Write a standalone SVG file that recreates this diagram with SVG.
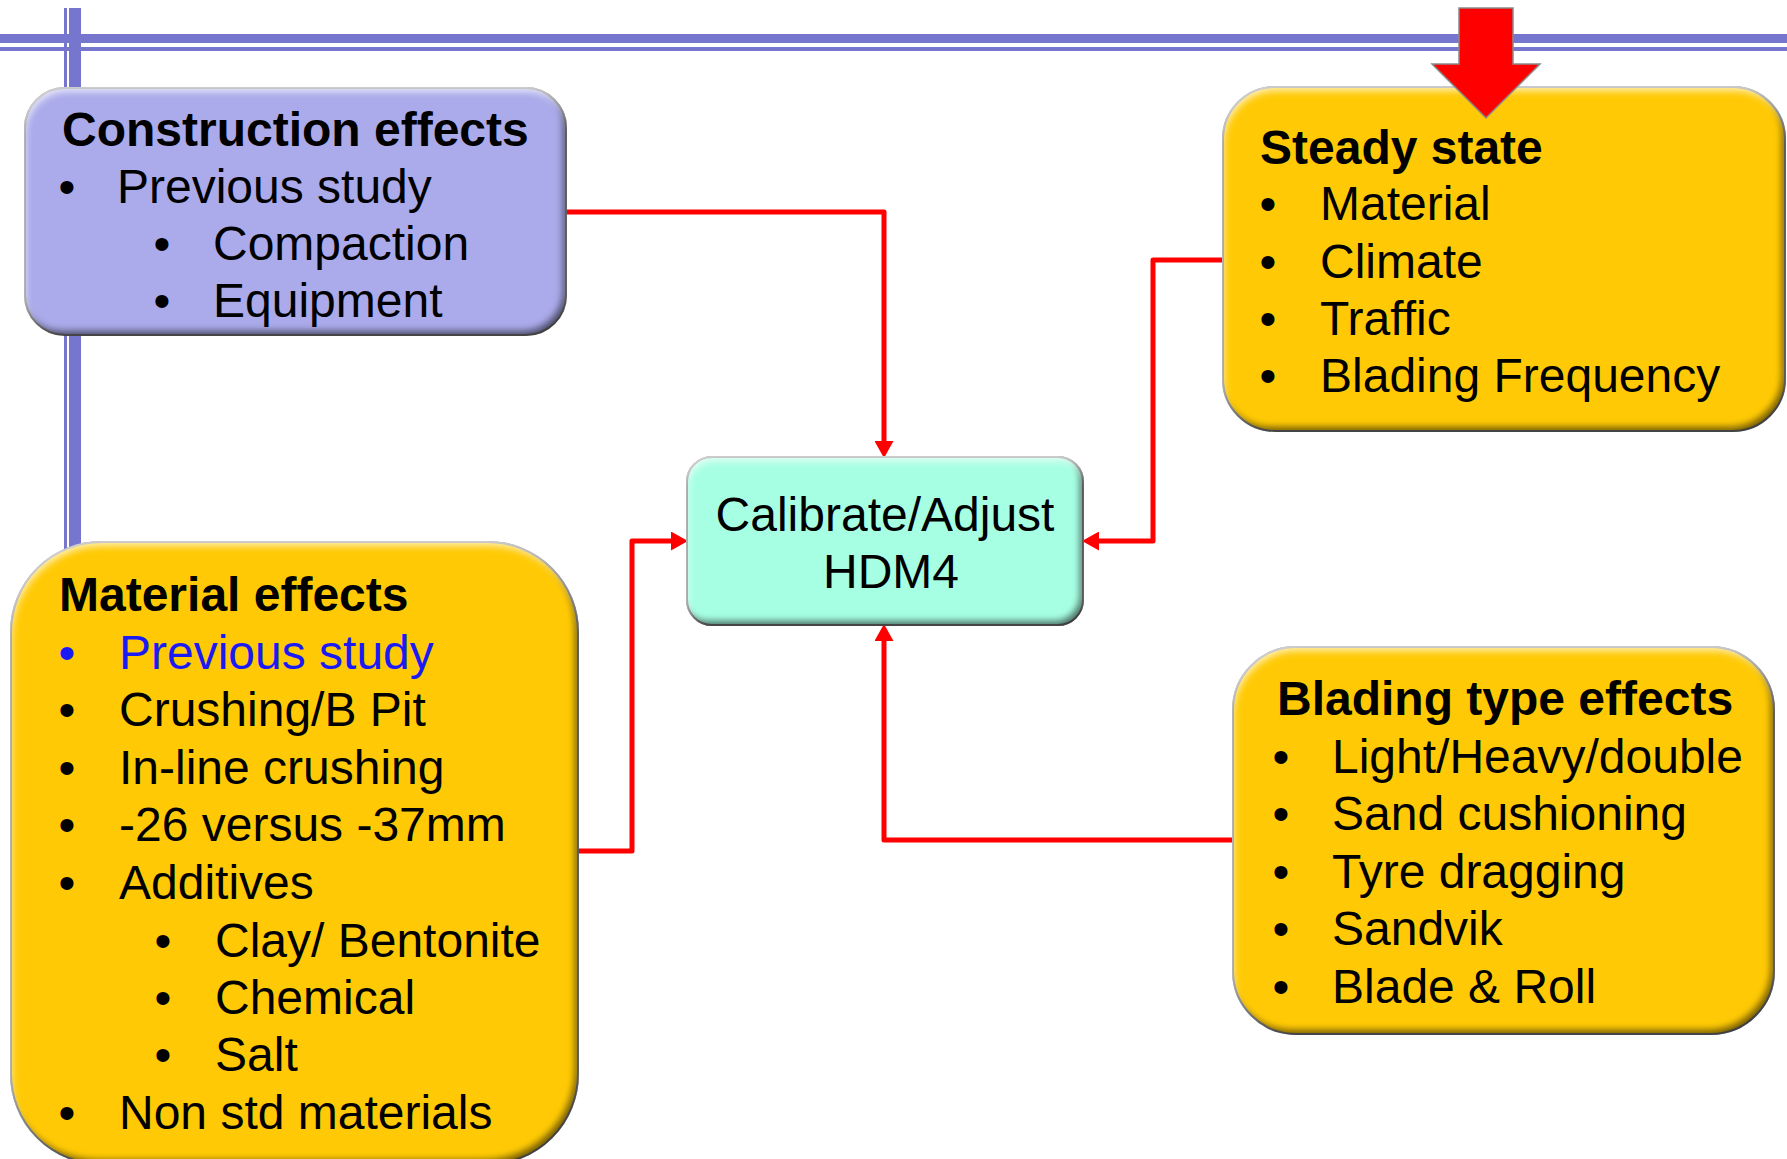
<svg xmlns="http://www.w3.org/2000/svg" width="1787" height="1159" viewBox="0 0 1787 1159">
<defs>
<style>
.t{font-family:"Liberation Sans",Arial,sans-serif;font-size:48px;fill:#000}
.b{font-weight:bold}
.blue{fill:#1A1AF5}
.bul{text-anchor:middle}
.c{text-anchor:middle}
.conn{fill:none;stroke:#FF0000;stroke-width:5;stroke-linejoin:round}
.box{stroke:#7A7A7A;stroke-width:2;filter:url(#bevel)}
.lav{fill:#ABABEB}
.gold{fill:#FFCA05}
.mint{fill:#A7FFE3}
.bar{fill:#7676CE}
</style>
<filter id="bevel" x="-10%" y="-10%" width="120%" height="120%" color-interpolation-filters="sRGB">
<feComponentTransfer in="SourceAlpha" result="inv"><feFuncA type="table" tableValues="1 0"/></feComponentTransfer>
<feGaussianBlur in="inv" stdDeviation="3.5" result="blur"/>
<feOffset in="blur" dx="-4" dy="-5" result="offBR"/>
<feFlood flood-color="#000000" flood-opacity="0.55" result="dk"/>
<feComposite in="dk" in2="offBR" operator="in" result="dk2"/>
<feComposite in="dk2" in2="SourceAlpha" operator="in" result="shade"/>
<feOffset in="blur" dx="2" dy="5" result="offTL"/>
<feFlood flood-color="#FFFFFF" flood-opacity="0.7" result="wt"/>
<feComposite in="wt" in2="offTL" operator="in" result="wt2"/>
<feComposite in="wt2" in2="SourceAlpha" operator="in" result="hi"/>
<feMerge><feMergeNode in="SourceGraphic"/><feMergeNode in="shade"/><feMergeNode in="hi"/></feMerge>
</filter>
<marker id="ah" markerUnits="userSpaceOnUse" markerWidth="17" markerHeight="19" refX="0" refY="9.5" orient="auto" viewBox="0 0 17 19">
<path d="M0,0 L17,9.5 L0,19 Z" fill="#FF0000"/>
</marker>
</defs>
<rect width="1787" height="1159" fill="#FFFFFF"/>
<g id="frame-lines">
<rect class="bar" x="0" y="34" width="1787" height="9"/>
<rect class="bar" x="0" y="47" width="1787" height="4"/>
<rect class="bar" x="64" y="8" width="3" height="560"/>
<rect class="bar" x="69" y="8" width="12" height="560"/>
</g>
<g id="connectors">
<path class="conn" d="M566,212 H884 V441" marker-end="url(#ah)"/>
<path class="conn" d="M1223,260 H1153 V541 H1099" marker-end="url(#ah)"/>
<path class="conn" d="M578,851 H632 V541 H671" marker-end="url(#ah)"/>
<path class="conn" d="M1233,840 H884 V641" marker-end="url(#ah)"/>
</g>
<g id="construction-effects">
<rect class="box lav" x="25" y="88" width="541" height="247" rx="40"/>
<text class="t b" x="62" y="146">Construction effects</text>
<text class="t bul" x="67" y="203">•</text><text class="t" x="117" y="203">Previous study</text>
<text class="t bul" x="162" y="260">•</text><text class="t" x="213" y="260">Compaction</text>
<text class="t bul" x="162" y="317">•</text><text class="t" x="213" y="317">Equipment</text>
</g>
<g id="steady-state">
<rect class="box gold" x="1223" y="87" width="562" height="344" rx="52"/>
<text class="t b" x="1260" y="164">Steady state</text>
<text class="t bul" x="1268" y="220">•</text><text class="t" x="1320" y="220">Material</text>
<text class="t bul" x="1268" y="278">•</text><text class="t" x="1320" y="278">Climate</text>
<text class="t bul" x="1268" y="335">•</text><text class="t" x="1320" y="335">Traffic</text>
<text class="t bul" x="1268" y="392">•</text><text class="t" x="1320" y="392">Blading Frequency</text>
</g>
<g id="steady-state-arrow">
<polygon points="1459,8 1513,8 1513,64 1540,64 1486,118 1432,64 1459,64" fill="#FF0000" stroke="#8A8A8A" stroke-width="1.5"/>
</g>
<g id="calibrate-hdm4">
<rect class="box mint" x="687" y="457" width="396" height="168" rx="25"/>
<text class="t c" x="885" y="531">Calibrate/Adjust</text>
<text class="t c" x="891" y="588">HDM4</text>
</g>
<g id="material-effects">
<rect class="box gold" x="11" y="542" width="567" height="622" rx="90"/>
<text class="t b" x="59" y="611">Material effects</text>
<text class="t bul blue" x="67" y="669">•</text><text class="t blue" x="119" y="669">Previous study</text>
<text class="t bul" x="67" y="726">•</text><text class="t" x="119" y="726">Crushing/B Pit</text>
<text class="t bul" x="67" y="784">•</text><text class="t" x="119" y="784">In-line crushing</text>
<text class="t bul" x="67" y="841">•</text><text class="t" x="119" y="841">-26 versus -37mm</text>
<text class="t bul" x="67" y="899">•</text><text class="t" x="119" y="899">Additives</text>
<text class="t bul" x="163" y="957">•</text><text class="t" x="215" y="957">Clay/ Bentonite</text>
<text class="t bul" x="163" y="1014">•</text><text class="t" x="215" y="1014">Chemical</text>
<text class="t bul" x="163" y="1071">•</text><text class="t" x="215" y="1071">Salt</text>
<text class="t bul" x="67" y="1129">•</text><text class="t" x="119" y="1129">Non std materials</text>
</g>
<g id="blading-type-effects">
<rect class="box gold" x="1233" y="647" width="541" height="387" rx="63"/>
<text class="t b" x="1277" y="715">Blading type effects</text>
<text class="t bul" x="1281" y="773">•</text><text class="t" x="1332" y="773">Light/Heavy/double</text>
<text class="t bul" x="1281" y="830">•</text><text class="t" x="1332" y="830">Sand cushioning</text>
<text class="t bul" x="1281" y="888">•</text><text class="t" x="1332" y="888">Tyre dragging</text>
<text class="t bul" x="1281" y="945">•</text><text class="t" x="1332" y="945">Sandvik</text>
<text class="t bul" x="1281" y="1003">•</text><text class="t" x="1332" y="1003">Blade &amp; Roll</text>
</g>
</svg>
